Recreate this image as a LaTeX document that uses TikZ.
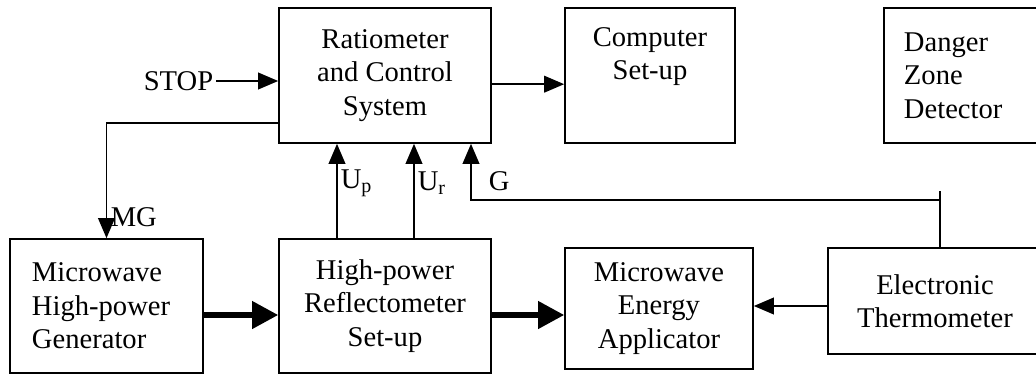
\documentclass[tikz,border=0pt]{standalone}
\usepackage{fontspec}
\setmainfont{Liberation Serif}
\usetikzlibrary{arrows.meta}

\begin{document}
\begin{tikzpicture}[x=0.015cm,y=-0.015cm,font=\fontsize{12.2}{14.3}\selectfont,
 blk/.style={draw,line width=0.7pt,align=center,inner sep=0pt},
 wire/.style={line width=0.7pt},
 sigarr/.style={line width=0.7pt,-{Triangle[length=0.3cm,width=0.25cm]}},
 powarr/.style={line width=2.2pt,-{Triangle[length=0.39cm,width=0.4cm]}}]
\useasboundingbox (0,0) rectangle (1036,376);
% top row
\node[blk,minimum width=3.18cm,minimum height=2.025cm] (ratio) at (385,75.5) {Ratiometer\\and Control\\System};
\node[blk,minimum width=2.55cm,minimum height=2.025cm] (comp) at (650,75.5) {Computer\\Set-up\\\strut};
\node[blk,align=left,inner xsep=0.3cm,text width=2.04cm,minimum height=2.025cm] (danger) at (972,75.5) {Danger\\Zone\\Detector};
% bottom row
\node[blk,align=left,inner xsep=0.33cm,text width=2.235cm,minimum height=2.01cm] (gen) at (106.5,306) {Microwave\\High-power\\Generator};
\node[blk,minimum width=3.18cm,minimum height=2.01cm] (refl) at (385,306) {High-power\\Reflectometer\\Set-up};
\node[blk,minimum width=2.82cm,minimum height=1.815cm] (appl) at (659,308.5) {Microwave\\Energy\\Applicator};
\node[blk,minimum width=3.21cm,minimum height=1.59cm] (therm) at (935,301) {Electronic\\Thermometer};
% signal labels
\node[anchor=east,inner sep=1pt] (stop) at (216,81) {STOP};
\node[anchor=west,inner sep=1pt] (lmg) at (108,217) {MG};
\node[anchor=west,inner sep=1pt] (lup) at (338,183) {U\textsubscript{p}};
\node[anchor=west,inner sep=1pt] (lur) at (415,183) {U\textsubscript{r}};
\node[anchor=west,inner sep=1pt] (lg) at (486,181) {G};
\coordinate (gtap) at (940,191);
\coordinate (gbend) at (940,200);
\coordinate (pgen) at ([yshift=-0.135cm]gen.east);
\coordinate (prefl) at ([yshift=-0.135cm]refl.east);
\coordinate (ptherm) at ([yshift=-0.075cm]therm.west);
% connectors
\draw[sigarr] (stop) -- (stop -| ratio.west);
\draw[sigarr] ([yshift=-0.13cm]ratio.east) -- ([yshift=-0.13cm]comp.west);
\draw[sigarr] ([yshift=-0.71cm]ratio.west) -| (gen.north);
\draw[sigarr] ([xshift=-0.72cm]refl.north) -- ([xshift=-0.72cm]ratio.south);
\draw[sigarr] ([xshift=0.435cm]refl.north) -- ([xshift=0.435cm]ratio.south);
\draw[wire] (therm.north -| gtap) -- (gtap);
\draw[sigarr] (gbend) -| ([xshift=1.29cm]ratio.south);
\draw[powarr] (pgen) -- (pgen -| refl.west);
\draw[powarr] (prefl) -- (prefl -| appl.west);
\draw[sigarr] (ptherm) -- (ptherm -| appl.east);
\end{tikzpicture}
\end{document}
